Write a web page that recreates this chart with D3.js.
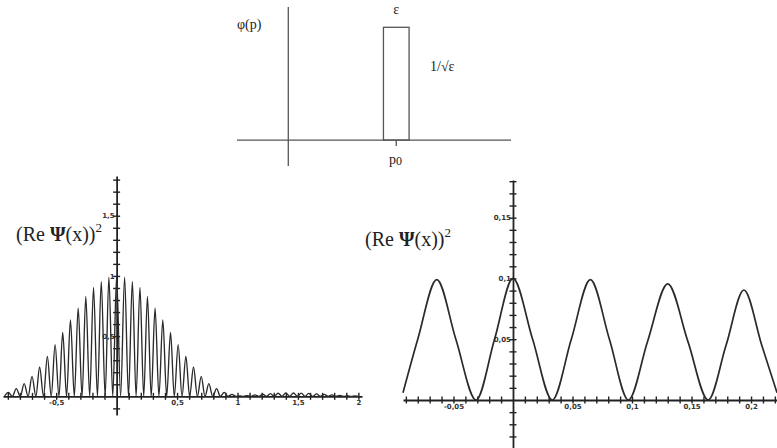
<!DOCTYPE html>
<html>
<head>
<meta charset="utf-8">
<script src="https://cdn.jsdelivr.net/npm/d3@7"></script>
<style>
body { margin:0; background:#fff; }
svg { display:block; }
.lbl { font-family: "Liberation Serif", "DejaVu Serif", serif; fill:#222; }
.tk text { font-family: "DejaVu Sans", sans-serif; font-size:7px; font-weight:bold; fill:#333; }
</style>
</head>
<body>
<svg id="chart" width="777" height="448"></svg>
<script>
// ---- sketch of phi(p): a box of width eps and height 1/sqrt(eps) at p0
var pDomain = [-1.9, 8.25], phiDomain = [-0.23, 1.18];
var p0 = 4, eps = 0.95, phiHeight = 1;

// ---- left plot: (Re Psi(x))^2 over a wide x range, peaks and zeros
var leftPeakX = [-0.896, -0.830, -0.765, -0.700, -0.637, -0.573, -0.509, -0.446, -0.382, -0.318,
  -0.255, -0.191, -0.127, -0.064, 0.000, 0.066, 0.130, 0.193, 0.255, 0.318, 0.382, 0.446, 0.509,
  0.573, 0.636, 0.700, 0.763, 0.827, 0.890, 0.954, 1.018, 1.081, 1.145, 1.209, 1.272, 1.336,
  1.400, 1.463, 1.527, 1.590, 1.654, 1.718, 1.781, 1.845, 1.909, 1.972];
var leftPeakY = [0.033, 0.064, 0.105, 0.166, 0.244, 0.332, 0.430, 0.530, 0.635, 0.735,
  0.830, 0.905, 0.955, 0.990, 1.000, 0.990, 0.955, 0.905, 0.830, 0.735, 0.635, 0.530, 0.430,
  0.332, 0.244, 0.166, 0.105, 0.064, 0.033, 0.016, 0.004, 0.006, 0.012, 0.017, 0.022, 0.026,
  0.028, 0.028, 0.027, 0.024, 0.020, 0.016, 0.012, 0.008, 0.005, 0.003];
var leftZeroX = [-0.928, -0.863, -0.797, -0.732, -0.668, -0.605, -0.541, -0.477, -0.414, -0.350,
  -0.286, -0.223, -0.159, -0.095, -0.032, 0.033, 0.098, 0.161, 0.224, 0.286, 0.350, 0.414, 0.477,
  0.541, 0.604, 0.668, 0.731, 0.795, 0.858, 0.922, 0.986, 1.049, 1.113, 1.177, 1.240, 1.304,
  1.368, 1.431, 1.495, 1.558, 1.622, 1.686, 1.749, 1.813, 1.877, 1.940, 2.004];
var leftXLabels = [-0.5, 0.5, 1, 1.5, 2];
var leftYLabels = [0.5, 1, 1.5];

// ---- right plot: zoom on a few periods near x = 0
var rightX = [-0.0924, -0.080, -0.064, -0.048, -0.031, -0.0155, 0.000, 0.0165, 0.033, 0.049,
  0.065, 0.081, 0.097, 0.113, 0.130, 0.147, 0.164, 0.179, 0.194, 0.209, 0.2218];
var rightY = [0.006, 0.050, 0.099, 0.050, 0.000, 0.050, 0.100, 0.050, 0.000, 0.050,
  0.099, 0.050, 0.000, 0.048, 0.0955, 0.048, 0.000, 0.045, 0.0905, 0.045, 0.006];
var rightXLabels = [-0.05, 0.05, 0.1, 0.15, 0.2];
var rightYLabels = [0.05, 0.1, 0.15];

var svg = d3.select("#chart");
var fmt = d3.formatLocale({decimal: ",", thousands: ".", grouping: [3], currency: ["", ""], minus: "-"}).format("~g");

/* ===================== top sketch ===================== */
var pX = d3.scaleLinear().domain(pDomain).range([237, 511]);
var pY = d3.scaleLinear().domain(phiDomain).range([166, 7]);
var sketch = svg.append("g").attr("stroke", "#555").attr("stroke-width", 1.3).attr("fill", "none");

sketch.append("line").attr("x1", pX(pDomain[0])).attr("x2", pX(pDomain[1])).attr("y1", pY(0)).attr("y2", pY(0));
sketch.append("line").attr("x1", pX(0)).attr("x2", pX(0)).attr("y1", pY(phiDomain[0])).attr("y2", pY(phiDomain[1]));
sketch.append("rect")
  .attr("x", pX(p0 - eps / 2)).attr("y", pY(phiHeight))
  .attr("width", pX(p0 + eps / 2) - pX(p0 - eps / 2))
  .attr("height", pY(0) - pY(phiHeight));
sketch.append("line").attr("x1", pX(p0)).attr("x2", pX(p0)).attr("y1", pY(0)).attr("y2", pY(0) + 6);

svg.append("text").attr("class", "lbl").attr("x", 237).attr("y", 29).style("font-size", "14px").text("φ(p)");
svg.append("text").attr("class", "lbl").attr("x", pX(p0)).attr("y", 14).attr("text-anchor", "middle").style("font-size", "14px").text("ε");
svg.append("text").attr("class", "lbl").attr("x", 430).attr("y", 71).style("font-size", "14px").text("1/√ε");
var pl = svg.append("text").attr("class", "lbl").attr("x", 389).attr("y", 164).style("font-size", "14px");
pl.append("tspan").text("p");
pl.append("tspan").attr("dy", 1).style("font-size", "12px").text("0");

/* ===================== helper for the cross axes ===================== */
function crossAxes(xs, ys, xStep, yStep, xLab, yLab) {
  var xd = xs.domain(), yd = ys.domain();
  var xt = d3.range(Math.ceil(xd[0] / xStep), Math.floor(xd[1] / xStep) + 1).map(function(i) { return +(i * xStep).toFixed(4); });
  var yt = d3.range(Math.ceil(yd[0] / yStep), Math.floor(yd[1] / yStep) + 1).map(function(i) { return +(i * yStep).toFixed(4); });

  var gx = svg.append("g").attr("class", "tk").attr("transform", "translate(0," + ys(0) + ")")
    .call(d3.axisBottom(xs).tickValues(xt.filter(function(d) { return d !== 0; })).tickSizeInner(3.5).tickSizeOuter(0).tickFormat(""));
  gx.selectAll(".tick line").attr("y1", -3.5).attr("stroke", "#222").attr("stroke-width", 1.4);
  gx.select(".domain").attr("stroke", "#222").attr("stroke-width", 1.8);

  var gy = svg.append("g").attr("class", "tk").attr("transform", "translate(" + xs(0) + ",0)")
    .call(d3.axisLeft(ys).tickValues(yt.filter(function(d) { return d !== 0; })).tickSizeInner(3.5).tickSizeOuter(0).tickFormat(""));
  gy.selectAll(".tick line").attr("x2", 3.5).attr("x1", -3.5).attr("stroke", "#222").attr("stroke-width", 1.4);
  gy.select(".domain").attr("stroke", "#222").attr("stroke-width", 1.8);

  var lx = svg.append("g").attr("class", "tk").attr("transform", "translate(0," + ys(0) + ")")
    .call(d3.axisBottom(xs).tickValues(xLab).tickSize(0).tickPadding(4).tickFormat(fmt));
  lx.select(".domain").remove();

  var ly = svg.append("g").attr("class", "tk").attr("transform", "translate(" + xs(0) + ",0)")
    .call(d3.axisLeft(ys).tickValues(yLab).tickSize(0).tickPadding(2).tickFormat(fmt));
  ly.select(".domain").remove();
}

function plotLine(pts, xs, ys, w) {
  svg.append("path")
    .datum(pts)
    .attr("fill", "none")
    .attr("stroke", "#2a2a2a")
    .attr("stroke-width", w)
    .attr("d", d3.line().x(function(d) { return xs(d[0]); }).y(function(d) { return ys(d[1]); }).curve(d3.curveMonotoneX));
}

/* ===================== left plot ===================== */
var xL = d3.scaleLinear().domain([-0.94, 2.03]).range([3, 362]);
var yL = d3.scaleLinear().domain([-0.155, 1.83]).range([415, 176]);
crossAxes(xL, yL, 0.1, 0.1, leftXLabels, leftYLabels);

var leftPts = leftPeakX.map(function(x, i) { return [x, leftPeakY[i]]; })
  .concat(leftZeroX.map(function(x) { return [x, 0]; }))
  .sort(function(a, b) { return a[0] - b[0]; });
plotLine(leftPts, xL, yL, 1.35);

svg.append("text").attr("class", "lbl").attr("x", 16).attr("y", 241).style("font-size", "20px")
  .html('(Re <tspan font-weight="bold">Ψ</tspan>(x))<tspan dy="-9" font-size="13px">2</tspan>');

/* ===================== right plot ===================== */
var xR = d3.scaleLinear().domain([-0.0924, 0.2218]).range([403, 777]);
var yR = d3.scaleLinear().domain([-0.0395, 0.181]).range([448, 180]);
crossAxes(xR, yR, 0.01, 0.01, rightXLabels, rightYLabels);

plotLine(rightX.map(function(x, i) { return [x, rightY[i]]; }), xR, yR, 1.7);

svg.append("text").attr("class", "lbl").attr("x", 365).attr("y", 246).style("font-size", "20px")
  .html('(Re <tspan font-weight="bold">Ψ</tspan>(x))<tspan dy="-9" font-size="13px">2</tspan>');
</script>
</body>
</html>
